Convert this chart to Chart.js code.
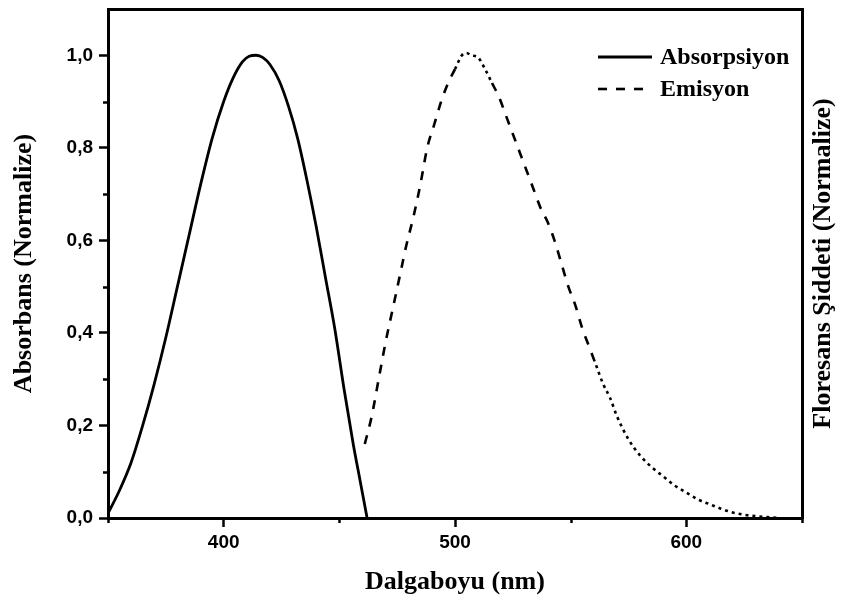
<!DOCTYPE html>
<html>
<head>
<meta charset="utf-8">
<script src="https://cdn.jsdelivr.net/npm/chart.js@4.4.1/dist/chart.umd.min.js"></script>
<style>
  html, body { margin: 0; padding: 0; background: #fff; }
  #chart { display: block; }
</style>
</head>
<body>
<canvas id="chart" width="851" height="602"></canvas>
<script>
// absorption spectrum (nm / normalized)
const absWavelength = [350, 355, 360, 365, 370, 375, 380, 385, 390, 395, 400, 404, 408, 411, 414, 417, 420, 424, 428, 432, 436, 440, 444, 448, 452, 456, 459, 462];
const absValues = [0.01, 0.06, 0.12, 0.20, 0.29, 0.39, 0.50, 0.61, 0.72, 0.82, 0.90, 0.95, 0.985, 0.998, 1.00, 0.995, 0.98, 0.945, 0.89, 0.82, 0.73, 0.63, 0.52, 0.41, 0.28, 0.16, 0.08, 0.00];

// emission spectrum (nm / normalized)
const emWavelength = [461, 464, 467, 470, 473, 476, 479, 482, 485, 488, 491, 494, 497, 500, 503, 505, 507, 510, 513, 516, 519, 522, 525, 528, 531, 534, 537, 540, 543, 546, 549, 552, 555, 558, 561, 564, 567, 570, 575, 580, 585, 590, 595, 600, 605, 610, 615, 620, 625, 630, 635, 640];
const emValues = [0.16, 0.22, 0.30, 0.38, 0.45, 0.52, 0.59, 0.65, 0.72, 0.80, 0.85, 0.90, 0.94, 0.97, 1.00, 1.005, 1.00, 0.995, 0.97, 0.94, 0.91, 0.87, 0.83, 0.79, 0.75, 0.71, 0.67, 0.64, 0.60, 0.55, 0.50, 0.46, 0.41, 0.37, 0.33, 0.29, 0.26, 0.22, 0.17, 0.135, 0.11, 0.09, 0.07, 0.055, 0.04, 0.03, 0.02, 0.012, 0.007, 0.004, 0.002, 0.0];

const seriesLabels = ['Absorpsiyon', 'Emisyon'];

const xRange = [350, 650];
const xTicks = [400, 500, 600];
const xMinorTicks = [350, 450, 550, 650];
const yRange = [0, 1.1];
const yTicks = [0, 0.2, 0.4, 0.6, 0.8, 1.0];
const yMinorTicks = [0.1, 0.3, 0.5, 0.7, 0.9];

const xTitle = 'Dalgaboyu (nm)';
const yTitle = 'Absorbans (Normalize)';
const y2Title = 'Floresans Şiddeti (Normalize)';

const tickFont = { family: 'Liberation Sans', weight: 'bold', size: 19 };
const titleFont = { family: 'Liberation Serif', weight: 'bold', size: 26 };

function toPoints(xs, ys) {
    return xs.map((x, i) => ({ x, y: ys[i] }));
}

function fmt(v) {
    return v.toFixed(1).replace('.', ',');
}

// dense noisy stretches of the emission trace look dotted in the original
function emissionDash(ctx) {
    const x = ctx.p0.parsed.x;
    if (x >= 499 && x < 516) return [3, 4];
    if (x >= 561) return [3, 4];
    return undefined;
}

// keep the plot box fixed: no extra room for edge labels
function noEdgePadding(s) {
    s.paddingTop = 0;
    s.paddingBottom = 0;
    s.paddingLeft = 0;
    s.paddingRight = 0;
}

// minor ticks + right title + in-plot legend
const extras = {
    id: 'extras',
    afterDraw(chart) {
        const { ctx, chartArea, scales } = chart;
        ctx.save();
        ctx.strokeStyle = '#000';
        ctx.lineWidth = 2.5;
        yMinorTicks.forEach(v => {
            const y = Math.round(scales.y.getPixelForValue(v)) + 0.5;
            ctx.beginPath();
            ctx.moveTo(chartArea.left, y);
            ctx.lineTo(chartArea.left - 5, y);
            ctx.stroke();
        });
        xMinorTicks.forEach(v => {
            const x = Math.round(scales.x.getPixelForValue(v)) + 0.5;
            ctx.beginPath();
            ctx.moveTo(x, chartArea.bottom);
            ctx.lineTo(x, chartArea.bottom + 5);
            ctx.stroke();
        });

        // right axis title, reading bottom to top
        ctx.fillStyle = '#000';
        ctx.font = 'bold 26px "Liberation Serif"';
        ctx.textAlign = 'center';
        ctx.textBaseline = 'middle';
        ctx.translate(823, (chartArea.top + chartArea.bottom) / 2);
        ctx.rotate(-Math.PI / 2);
        ctx.fillText(y2Title, 0, 0);
        ctx.restore();

        // legend
        ctx.save();
        ctx.font = 'bold 24px "Liberation Serif"';
        ctx.textAlign = 'left';
        ctx.textBaseline = 'middle';
        chart.data.datasets.forEach((ds, i) => {
            const y = chartArea.top + 48 + i * 32;
            const x0 = chartArea.right - 204;
            ctx.strokeStyle = ds.borderColor;
            ctx.lineWidth = ds.borderWidth;
            ctx.setLineDash(ds.borderDash || []);
            ctx.beginPath();
            ctx.moveTo(x0, y);
            ctx.lineTo(x0 + 54, y);
            ctx.stroke();
            ctx.setLineDash([]);
            ctx.fillStyle = '#000';
            ctx.fillText(ds.label, x0 + 62, y + 1);
        });
        ctx.restore();
    }
};

new Chart(document.getElementById('chart'), {
    type: 'line',
    data: {
        datasets: [
            {
                label: seriesLabels[0],
                data: toPoints(absWavelength, absValues),
                borderColor: '#000',
                borderWidth: 2.8,
                pointRadius: 0,
                cubicInterpolationMode: 'monotone',
                fill: false
            },
            {
                label: seriesLabels[1],
                data: toPoints(emWavelength, emValues),
                borderColor: '#000',
                borderWidth: 2.6,
                borderDash: [9, 9],
                segment: { borderDash: emissionDash },
                pointRadius: 0,
                cubicInterpolationMode: 'monotone',
                fill: false
            }
        ]
    },
    options: {
        responsive: false,
        animation: false,
        layout: { padding: { top: 9, left: 0, right: 0, bottom: 0 } },
        plugins: { legend: { display: false }, tooltip: { enabled: false } },
        scales: {
            x: {
                type: 'linear',
                position: 'bottom',
                min: xRange[0],
                max: xRange[1],
                border: { display: true, color: '#000', width: 3 },
                grid: { drawOnChartArea: false, drawTicks: true, tickLength: 9, tickWidth: 2.5, tickColor: '#000' },
                ticks: { color: '#000', font: tickFont, padding: 4, callback: v => String(v) },
                afterBuildTicks: s => { s.ticks = xTicks.map(v => ({ value: v })); },
                afterFit: s => { s.height = 84; noEdgePadding(s); },
                title: { display: true, text: xTitle, color: '#000', font: titleFont, padding: { top: 0, bottom: 4 } }
            },
            xTop: {
                type: 'linear',
                position: 'top',
                min: xRange[0],
                max: xRange[1],
                border: { display: true, color: '#000', width: 3 },
                grid: { display: false },
                ticks: { display: false },
                afterFit: s => { s.height = 0; noEdgePadding(s); }
            },
            y: {
                type: 'linear',
                position: 'left',
                min: yRange[0],
                max: yRange[1],
                border: { display: true, color: '#000', width: 3 },
                grid: { drawOnChartArea: false, drawTicks: true, tickLength: 9, tickWidth: 2.5, tickColor: '#000' },
                ticks: { color: '#000', font: tickFont, padding: 6, callback: v => fmt(v) },
                afterBuildTicks: s => { s.ticks = yTicks.map(v => ({ value: v })); },
                afterFit: s => { s.width = 108; noEdgePadding(s); },
                title: { display: true, text: yTitle, color: '#000', font: titleFont, padding: { top: 9, bottom: 0 } }
            },
            y2: {
                type: 'linear',
                position: 'right',
                min: yRange[0],
                max: yRange[1],
                border: { display: true, color: '#000', width: 3 },
                grid: { display: false },
                ticks: { display: false },
                afterFit: s => { s.width = 49; noEdgePadding(s); }
            }
        }
    },
    plugins: [extras]
});
</script>
</body>
</html>
